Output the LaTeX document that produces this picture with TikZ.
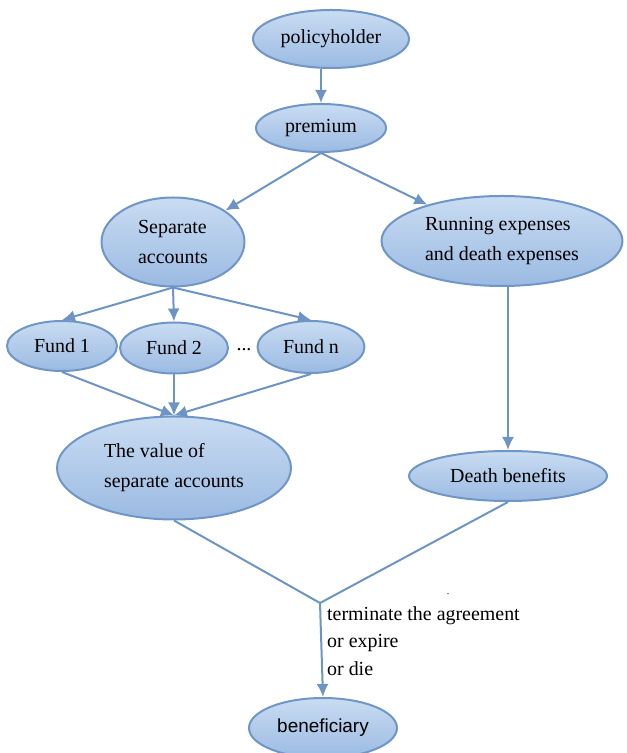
\documentclass[tikz,border=0pt]{standalone}
\usepackage{fontspec}
\setmainfont{Liberation Serif}
\newfontfamily\arialfont{Liberation Sans}
\usetikzlibrary{shapes.geometric,arrows.meta}
\definecolor{edgeblue}{HTML}{6C95C6}
\definecolor{filltop}{HTML}{C9DCF2}
\definecolor{fillbot}{HTML}{9BBAE2}
\definecolor{rimblue}{HTML}{6F96C6}
\begin{document}
\begin{tikzpicture}[>={Latex[length=13bp,width=12bp]},line join=bevel,
  oval/.style={ellipse,draw=rimblue,line width=2bp,top color=filltop,bottom color=fillbot,
    inner sep=0pt,align=left,font=\fontsize{20}{30}\selectfont},
  flow/.style={edgeblue,line width=2bp},
]
%%
\useasboundingbox (0bp,0bp) rectangle (627bp,753bp);
\node (node_holder) at (331bp,714bp) [oval,minimum width=156bp,minimum height=58bp] {policyholder};
  \node (node_premium) at (321bp,625bp) [oval,minimum width=130bp,minimum height=48bp] {premium};
  \node (node_sep) at (173bp,511bp) [oval,minimum width=143bp,minimum height=89bp] {Separate\\accounts};
  \node (node_run) at (502bp,512bp) [oval,minimum width=241bp,minimum height=90bp] {Running expenses\\and death expenses};
  \node (node_f1) at (62bp,407bp) [oval,minimum width=110bp,minimum height=50bp] {Fund 1};
  \node (node_f2) at (174bp,405bp) [oval,minimum width=108bp,minimum height=51bp] {Fund 2};
  \node (node_dots) at (244bp,403bp) [font=\fontsize{20}{30}\selectfont] {...};
  \node (node_fn) at (311bp,406bp) [oval,minimum width=107bp,minimum height=52bp] {Fund n};
  \node (node_value) at (174bp,285bp) [oval,minimum width=234bp,minimum height=103bp] {The value of\\separate accounts};
  \node (node_death) at (508bp,277bp) [oval,minimum width=198bp,minimum height=50bp] {Death benefits};
  \node (node_benef) at (323bp,25bp) [oval,minimum width=148bp,minimum height=60bp,font=\arialfont\fontsize{19}{22}\selectfont] {beneficiary};
  \node (node_cond) at (327bp,147bp) [anchor=north west,inner sep=0pt,align=left,font=\fontsize{20}{28}\selectfont] {terminate the agreement\\or expire\\or die};
  \node (node_dot) at (448bp,159bp) [inner sep=0pt,font=\fontsize{10}{10}\selectfont] {.};
  \coordinate (join) at (320bp,150bp);
%
  \draw [flow,->] (node_holder.south -| node_premium) -- (node_premium.north);
  \draw [flow,->] (node_premium.south) -- (node_sep);
  \draw [flow,->] (node_premium.south) -- (node_run);
  \draw [flow,->] (node_sep.south) -- (node_f1.north);
  \draw [flow,->] (node_sep.south) -- (node_f2.north);
  \draw [flow,->] (node_sep.south) -- (node_fn.north);
  \draw [flow,->] (node_f1.south) -- (node_value.north);
  \draw [flow,->] (node_f2.south) -- (node_value.north);
  \draw [flow,->] (node_fn.south) -- (node_value.north);
  \draw [flow,->] (node_run.south -| node_death) -- (node_death.north);
  \draw [flow] (node_value.south) -- (join);
  \draw [flow] (node_death.south) -- (join);
  \draw [flow,->] (join) -- (node_benef.north);
%
\end{tikzpicture}
\end{document}
